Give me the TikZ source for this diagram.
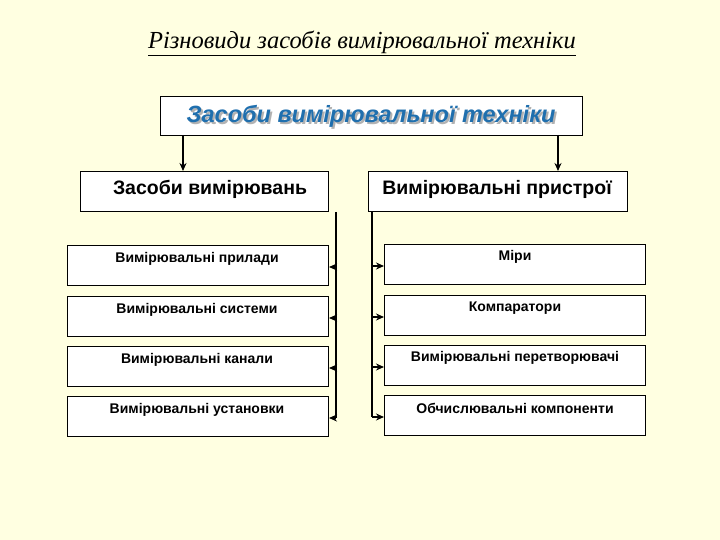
\documentclass[tikz,border=0pt]{standalone}
\usepackage{fontspec}
\setmainfont{Liberation Sans}
\newfontfamily\serifit{Liberation Serif}
\usetikzlibrary{arrows.meta}
\definecolor{bg}{HTML}{FFFFE1}
\definecolor{tblue}{HTML}{1F6FAE}
\begin{document}
\begin{tikzpicture}[x=1pt,y=-1pt,
 box/.style={draw=black,fill=white,line width=1pt,anchor=north west,inner sep=0pt},
 lbl/.style={font=\bfseries\fontsize{14}{16}\selectfont},
 arr/.style={-{Stealth[length=8pt,width=7pt]},line width=1.3pt}]
\fill[bg] (0,0) rectangle (720,540);
\useasboundingbox (0,0) rectangle (720,540);
\node (title) at (362,43) {\serifit\itshape\fontsize{24.5}{28}\selectfont\underline{Різновиди засобів вимірювальної техніки}};
\node[box,minimum width=422pt,minimum height=39pt] (top) at (160,96) {};
\node[text=gray!60,font=\bfseries\itshape\fontsize{23.5}{27}\selectfont] at (373,118) {Засоби вимірювальної техніки};
\node[text=tblue,font=\bfseries\itshape\fontsize{23.5}{27}\selectfont] (toptxt) at (371,116) {Засоби вимірювальної техніки};
\node[box,minimum width=248pt,minimum height=40pt] (L) at (80,171) {};
\node[font=\bfseries\fontsize{19.5}{22}\selectfont] (Lt) at (210,189) {Засоби вимірювань};
\node[box,minimum width=259pt,minimum height=40pt] (R) at (368,171) {};
\node[font=\bfseries\fontsize{19.5}{22}\selectfont] (Rt) at (497,189) {Вимірювальні пристрої};
\coordinate (ta) at (183,135); \coordinate (tb) at (558,135);
\draw[arr] (ta) -- (L.north west -| ta);
\draw[arr] (tb) -- (R.north west -| tb);
\foreach \i/\y/\t in {1/245/Вимірювальні прилади,2/296/Вимірювальні системи,3/346/Вимірювальні канали,4/396/Вимірювальні установки}{
 \node[box,minimum width=261pt,minimum height=40pt] (l\i) at (67,\y) {};
 \node[lbl] at (197,\y+14) {\t};
 \coordinate (la\i) at (336,\y+22);
 \draw[arr] (la\i) -- (l\i.east |- la\i);
}
\foreach \i/\y/\t in {1/244/Міри,2/295/Компаратори,3/345/Вимірювальні перетворювачі,4/395/Обчислювальні компоненти}{
 \node[box,minimum width=261pt,minimum height=40pt] (r\i) at (384,\y) {};
 \node[lbl] at (515,\y+13) {\t};
 \coordinate (ra\i) at (372,\y+22);
 \draw[arr] (ra\i) -- (r\i.west |- ra\i);
}
\draw[line width=1.3pt] (L.south east -| la1) -- (la4);
\draw[line width=1.3pt] (R.south west -| ra1) -- (ra4);
\end{tikzpicture}
\end{document}
